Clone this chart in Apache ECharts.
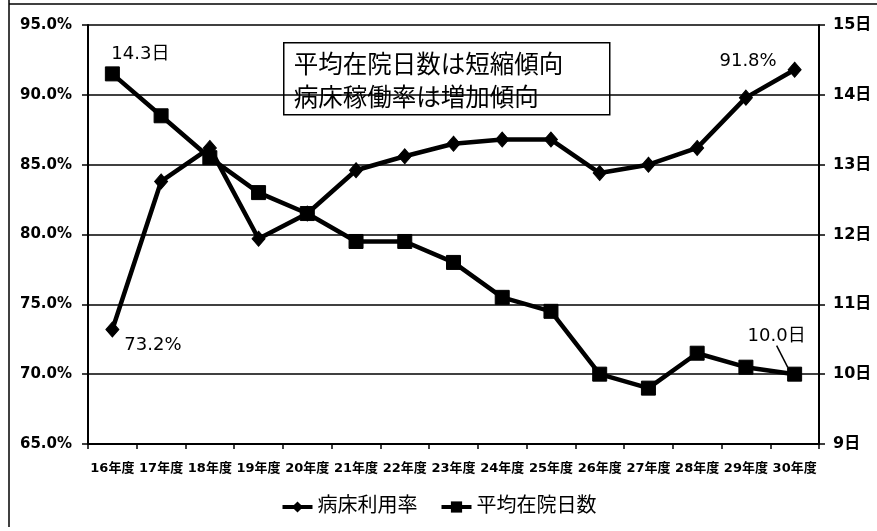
<!DOCTYPE html>
<html>
<head>
<meta charset="utf-8">
<script src="https://cdn.jsdelivr.net/npm/echarts@6/dist/echarts.min.js"></script>
<style>
html,body{margin:0;padding:0;background:#fff;}
#chart{width:877px;height:531px;}
</style>
</head>
<body>
<div id="chart"></div>
<script>
const categories = ['16年度','17年度','18年度','19年度','20年度','21年度','22年度','23年度','24年度','25年度','26年度','27年度','28年度','29年度','30年度'];
const bedRate = [73.2, 83.8, 86.2, 79.7, 81.5, 84.6, 85.6, 86.5, 86.8, 86.8, 84.4, 85.0, 86.2, 89.8, 91.8];
const stayDays = [14.3, 13.7, 13.1, 12.6, 12.3, 11.9, 11.9, 11.6, 11.1, 10.9, 10.0, 9.8, 10.3, 10.1, 10.0];
const seriesNames = ['病床利用率', '平均在院日数'];
const noteLines = ['平均在院日数は短縮傾向', '病床稼働率は増加傾向'];

const FONT = 'DejaVu Sans, Noto Sans CJK JP, sans-serif';

function withLabels(values, labelSpec) {
  return values.map(function (v, i) {
    const spec = labelSpec[i];
    if (!spec) return v;
    const item = { value: v, label: Object.assign({ show: true, color: '#000', fontSize: 18, fontFamily: FONT, formatter: spec.text }, spec.label) };
    if (spec.line) item.labelLine = { show: true, lineStyle: { color: '#000', width: 1.5 } };
    return item;
  });
}

const lastIdx = stayDays.length - 1;
const rateLabels = {};
rateLabels[0] = { text: bedRate[0].toFixed(1) + '%', label: { position: 'right', offset: [0, 16] } };
rateLabels[lastIdx] = { text: bedRate[lastIdx].toFixed(1) + '%', label: { position: 'left', offset: [-6, -8] } };
const dayLabels = {};
dayLabels[0] = { text: stayDays[0].toFixed(1) + '日', label: { position: 'top' } };
dayLabels[lastIdx] = { text: stayDays[lastIdx].toFixed(1) + '日', line: true, label: { position: 'top' } };

const chart = echarts.init(document.getElementById('chart'), null, { renderer: 'canvas' });
chart.setOption({
  backgroundColor: '#fff',
  animation: false,
  grid: { left: 88, right: 58, top: 25, bottom: 87 },
  legend: {
    data: seriesNames,
    bottom: 9,
    left: 'center',
    itemWidth: 30,
    itemHeight: 14,
    itemGap: 22,
    lineStyle: { width: 4 },
    textStyle: { color: '#000', fontSize: 20, fontFamily: FONT }
  },
  xAxis: {
    type: 'category',
    data: categories,
    boundaryGap: true,
    axisLine: { lineStyle: { color: '#000', width: 2 } },
    axisTick: { show: true, length: 5, lineStyle: { color: '#000', width: 1.5 } },
    axisLabel: { color: '#000', fontSize: 13, fontWeight: 'bold', fontFamily: FONT, margin: 18, interval: 0 }
  },
  yAxis: [
    {
      type: 'value', min: 65, max: 95, interval: 5,
      axisLine: { show: true, lineStyle: { color: '#000', width: 2 } },
      axisTick: { show: true, length: 6, lineStyle: { color: '#000', width: 1.5 } },
      axisLabel: { color: '#000', fontSize: 15, fontWeight: 'bold', fontFamily: FONT, margin: 16,
        formatter: function (v) { return v.toFixed(1) + '%'; } },
      splitLine: { lineStyle: { color: '#000', width: 1.5 } }
    },
    {
      type: 'value', min: 9, max: 15, interval: 1,
      axisLine: { show: true, lineStyle: { color: '#000', width: 2 } },
      axisTick: { show: true, length: 6, lineStyle: { color: '#000', width: 1.5 } },
      axisLabel: { color: '#000', fontSize: 16, fontWeight: 'bold', fontFamily: FONT, margin: 14,
        formatter: function (v) { return v + '日'; } },
      splitLine: { show: false }
    }
  ],
  series: [
    {
      name: seriesNames[0], type: 'line', yAxisIndex: 0,
      data: withLabels(bedRate, rateLabels),
      symbol: 'diamond', symbolSize: [13, 15],
      lineStyle: { color: '#000', width: 4.5 },
      itemStyle: { color: '#000', borderColor: '#000' },
      z: 3
    },
    {
      name: seriesNames[1], type: 'line', yAxisIndex: 1,
      data: withLabels(stayDays, dayLabels),
      symbol: 'rect', symbolSize: 14,
      lineStyle: { color: '#000', width: 4.5 },
      itemStyle: { color: '#000', borderColor: '#000' },
      labelLayout: function (p) {
        if (p.dataIndex === lastIdx) return { dx: -18, dy: -16 };
        if (p.dataIndex === 0) return { dx: 28, dy: 2 };
        return {};
      },
      z: 4
    }
  ],
  graphic: [
    { type: 'line', shape: { x1: 9, y1: 0, x2: 9, y2: 527 }, style: { stroke: '#000', lineWidth: 1.5 }, silent: true },
    { type: 'line', shape: { x1: 9, y1: 4, x2: 877, y2: 4 }, style: { stroke: '#000', lineWidth: 1.5 }, silent: true },
    {
      type: 'group', left: 283, top: 42, z: 100,
      children: [
        { type: 'rect', shape: { x: 0, y: 0, width: 326, height: 72 }, style: { fill: '#fff', stroke: '#000', lineWidth: 1.5 } },
        { type: 'text', x: 10, y: 4, style: { text: noteLines.join('\n'), font: '24.5px "Noto Sans CJK JP"', fill: '#000', lineHeight: 33 } }
      ]
    }
  ]
});
</script>
</body>
</html>
